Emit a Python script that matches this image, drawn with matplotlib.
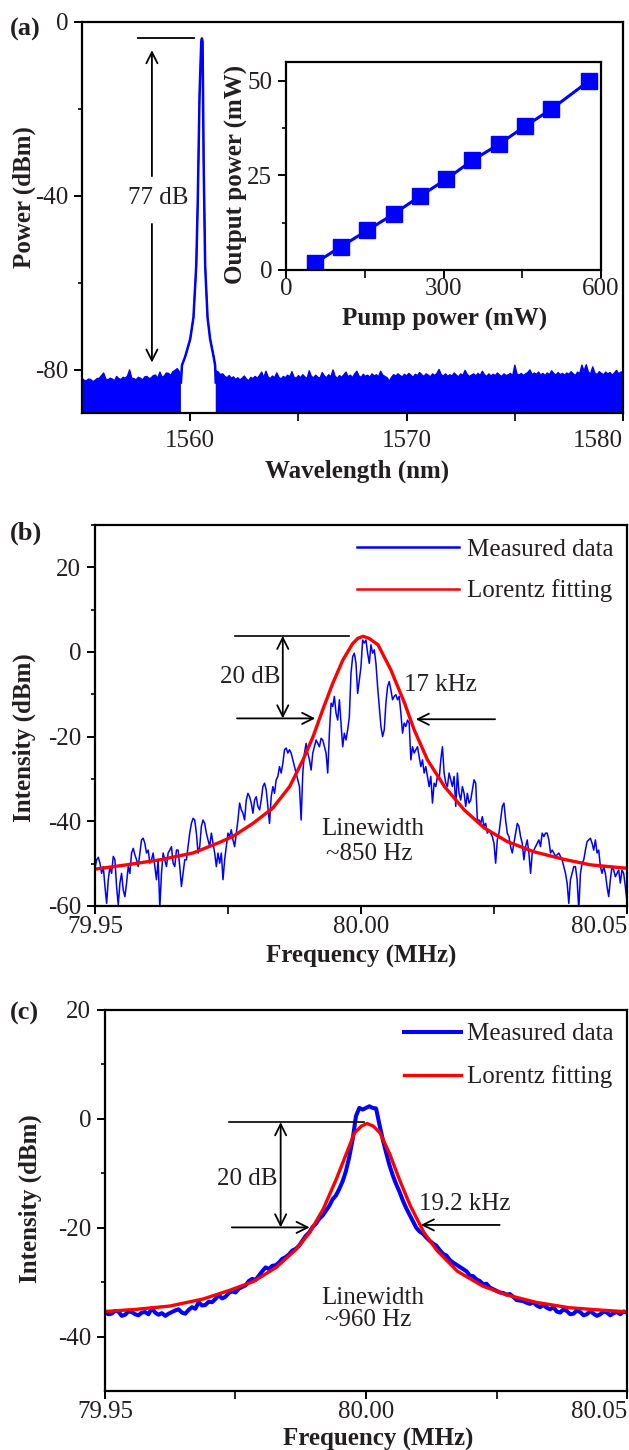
import numpy as np
import matplotlib
matplotlib.use("Agg")
import matplotlib.pyplot as plt
from matplotlib.ticker import MultipleLocator

plt.rcParams['font.family'] = ['Liberation Serif', 'DejaVu Serif']
plt.rcParams['axes.unicode_minus'] = False

BLUE = '#0000ff'
RED = '#ff0000'
INK = '#231f20'

# ---------------- (a) laser spectrum ----------------
# noise floor top, 1555.0 .. 1559.5 nm (0.1 nm steps)
noise_left = [
    -82.0, -82.5, -82.6, -82.2, -82.3, -82.8, -82.5, -82.1, -82.0, -81.4,
    -80.8, -82.2, -82.4, -82.0, -82.2, -82.6, -81.6, -82.1, -82.3, -81.8,
    -82.0, -81.5, -80.1, -82.0, -82.1, -82.4, -81.8, -82.0, -82.4, -81.7,
    -81.6, -82.1, -81.9, -81.4, -81.3, -82.0, -80.6, -81.8, -81.5, -80.8,
    -80.9, -81.4, -80.5, -80.2, -79.8, -80.5,
]
# the lasing peak
peak_wl = [1559.57, 1559.62, 1559.77, 1560.00, 1560.15, 1560.28, 1560.35, 1560.43,
           1560.51, 1560.54, 1560.57, 1560.62, 1560.69, 1560.80, 1560.92, 1561.08,
           1561.15, 1561.18]
peak_dbm = [-83.0, -79.0, -77.0, -73.0, -68.0, -56.0, -41.0, -17.0,
            -4.5, -3.8, -4.5, -32.0, -56.0, -68.0, -73.0, -77.0,
            -79.0, -83.0]
# noise floor top, 1561.2 .. 1580.0 nm (0.1 nm steps)
noise_right = [
    -80.3, -80.6, -81.2, -81.0, -81.6, -81.9, -81.4, -82.0,
    -81.7, -82.3, -81.9, -82.4, -82.0, -81.5, -82.2, -82.6, -81.8, -82.1,
    -81.6, -82.0, -81.4, -80.6, -81.9, -80.4, -81.7, -82.1, -81.5, -81.9,
    -80.8, -81.8, -82.2, -81.6, -81.9, -81.3, -81.7, -80.5, -81.8, -82.0,
    -81.4, -81.9, -81.2, -81.7, -82.1, -80.3, -81.6, -81.9, -81.3, -81.8,
    -82.0, -80.7, -81.5, -81.9, -81.2, -81.7, -80.1, -81.6, -82.0, -81.4,
    -81.8, -81.2, -80.6, -81.7, -81.3, -81.9, -81.0, -80.4, -81.5, -81.8,
    -81.1, -81.6, -81.3, -81.8, -81.0, -81.5, -81.2, -81.7, -80.4, -81.3,
    -81.6, -81.9, -82.7, -81.8, -81.2, -81.5, -81.0, -81.4, -81.7, -81.1,
    -81.5, -80.9, -81.3, -81.8, -81.1, -81.4, -80.7, -81.2, -81.6, -81.0,
    -81.3, -81.7, -81.0, -81.4, -80.9, -80.0, -81.2, -81.5, -81.0, -81.6,
    -81.2, -81.5, -80.8, -81.3, -81.7, -81.0, -81.4, -80.2, -81.1, -81.6,
    -81.3, -81.0, -81.5, -80.9, -81.4, -80.4, -81.2, -81.6, -81.0, -81.5,
    -81.1, -81.4, -80.8, -81.3, -81.6, -81.0, -81.4, -81.2, -80.9, -81.5,
    -79.0, -81.0, -81.3, -80.9, -81.4, -81.0, -80.7, -80.1, -81.2, -80.8,
    -81.1, -80.6, -81.3, -80.9, -81.4, -80.8, -81.2, -80.3, -80.9, -81.3,
    -80.7, -81.2, -80.9, -81.3, -80.8, -81.1, -80.5, -81.0, -81.4, -80.6,
    -80.9, -79.0, -80.4, -78.9, -80.6, -81.0, -79.4, -80.8, -81.2, -80.5,
    -80.9, -81.2, -80.6, -81.0, -80.7, -81.3, -80.8, -80.2, -81.0, -80.6, -80.5,
]

# inset: output power vs pump power
pump_mw = [55, 105, 155, 205, 255, 305, 355, 405, 455, 505, 577]
output_mw = [1.8, 6.2, 10.5, 14.8, 19.5, 24.0, 29.0, 33.2, 38.0, 42.5, 50.0]

# ---------------- (b) beat note, measured (79.95 .. 80.05 MHz) ----------------
b_measured = [
    -51.1, -49.1, -48.5, -49.9, -52.3, -50.7, -55.4, -59.4, -53.8, -50.7,
    -52.3, -48.3, -49.1, -55.4, -59.8, -54.6, -52.3, -56.2, -57.8, -54.6,
    -50.7, -52.3, -47.5, -46.4, -47.9, -49.1, -50.7, -47.5, -44.4, -44.0,
    -45.2, -47.5, -46.8, -49.9, -49.1, -47.5, -50.7, -53.8, -49.1, -60.5,
    -52.3, -47.5, -49.1, -50.7, -47.5, -46.8, -46.0, -49.9, -50.7, -46.8,
    -46.8, -50.7, -55.4, -52.3, -49.1, -49.1, -46.0, -42.8, -40.5, -39.3,
    -39.7, -42.8, -47.5, -46.0, -41.2, -39.7, -40.5, -42.8, -44.4, -46.0,
    -42.8, -45.2, -47.5, -50.7, -47.5, -49.9, -47.5, -53.8, -49.1, -46.0,
    -42.8, -43.6, -42.0, -44.4, -46.0, -42.8, -39.7, -35.7, -37.3, -38.1,
    -39.7, -35.0, -33.4, -34.2, -35.7, -38.1, -35.0, -34.2, -36.5, -37.3,
    -35.0, -31.8, -31.0, -32.6, -36.5, -40.5, -34.2, -31.8, -33.4, -30.2,
    -29.4, -27.1, -28.6, -26.3, -23.1, -22.7, -23.9, -23.1, -23.9, -25.5,
    -27.1, -28.6, -30.2, -31.8, -39.7, -28.6, -23.9, -21.6, -23.9, -25.5,
    -27.9, -23.9, -22.4, -20.8, -21.6, -22.4, -20.4, -20.8, -22.4, -23.9,
    -28.6, -19.2, -12.1, -12.9, -10.5, -14.5, -16.1, -11.3, -16.8, -22.4,
    -19.2, -20.8, -18.4, -15.3, -5.0, -1.1, -0.3, -2.7, -9.8, -6.6,
    -3.5, 2.8,
    2.1, 2.8, -0.3, -2.7, 1.7, -0.3, 0.5, -2.7, -8.2, -12.9,
    -17.6, -20.0, -18.4, -12.1, -8.2, -7.0, -9.0, -11.3, -10.5, -10.1,
    -11.3, -10.5, -14.5, -19.2, -16.8, -17.6, -16.1, -16.8, -25.5, -22.4,
    -23.9, -23.1, -22.4, -24.7, -27.1, -25.5, -28.6, -27.1, -29.4, -31.8,
    -29.4, -35.7, -31.0, -31.8, -29.4, -30.2, -25.5, -22.4, -28.6, -31.0,
    -31.8, -28.6, -30.2, -31.8, -29.4, -36.5, -28.6, -33.4, -35.0, -31.8,
    -33.4, -36.5, -33.4, -35.7, -35.0, -32.6, -30.2, -31.0, -39.7, -39.7,
    -40.5, -38.9, -41.2, -40.5, -42.8, -42.0, -42.8, -43.6, -45.2, -49.9,
    -44.4, -42.8, -39.7, -36.5, -35.7, -39.7, -42.8, -43.6, -46.0, -47.5,
    -45.2, -42.8, -40.5, -41.2, -43.6, -45.2, -49.1, -46.0, -44.4, -47.5,
    -52.3, -47.5, -46.8, -46.0, -45.2, -44.4, -46.0, -42.8, -43.6, -42.8,
    -42.8, -44.4, -47.5, -46.8, -47.5, -48.3, -47.9, -47.5, -48.3, -49.1,
    -50.7, -52.3, -54.6, -59.4, -53.8, -52.3, -50.7, -50.7, -53.8, -61.0,
    -52.3, -49.9, -49.1, -46.8, -44.8, -44.4, -44.0, -45.2, -46.8, -44.4,
    -47.5, -46.8, -50.7, -52.3, -50.7, -52.3, -55.4, -57.8, -53.8, -50.7,
    -51.5, -53.1, -52.3, -51.5, -54.6, -51.5, -52.3, -55.4, -59.0,
]
# (b) Lorentz fit, offset from 79.95 MHz in kHz
b_fit_khz = [0.0, 5.9, 12.2, 18.4, 23.4, 25.9, 29.7, 33.4, 36.6, 39.1, 41.0, 42.8,
             44.7, 46.6, 48.4, 49.4, 50.4, 51.5, 52.3, 53.2, 55.6, 58.2, 60.0,
             62.5, 65.7, 69.4, 73.2, 77.5, 82.5, 88.2, 93.2, 100.0]
b_fit_dbm = [-51.3, -50.3, -49.1, -47.5, -45.0, -43.6, -40.5, -36.9, -31.8, -25.5, -20.0, -13.7,
             -7.4, -1.9, 1.9, 3.2, 3.7, 3.2, 2.5, 1.7, -4.2, -12.1, -18.4,
             -25.5, -31.8, -37.3, -41.6, -44.8, -47.2, -49.0, -50.3, -51.1]

# ---------------- (c) beat note, measured (79.95 .. 80.05 MHz) ----------------
c_measured = [
    -35.5, -35.9, -35.8, -35.3, -35.4, -36.2, -36.0, -35.4, -35.5, -35.9,
    -36.1, -35.6, -35.5, -35.9, -34.8, -35.6, -36.0, -35.7, -36.2, -35.8,
    -35.5, -35.2, -35.0, -35.6, -35.8, -35.1, -34.6, -34.9, -33.7, -34.3,
    -34.2, -33.6, -33.7, -33.1, -32.4, -33.0, -32.7, -32.0, -31.7, -31.9,
    -31.2, -30.9, -30.6, -29.8, -29.4, -29.6, -28.8, -28.0, -27.3, -27.6,
    -27.0, -26.9, -26.4, -25.7, -25.4, -24.9, -24.2, -23.9, -23.3, -22.4,
    -21.5, -20.9, -19.9, -19.3, -18.4, -17.8, -16.9, -16.0, -14.8, -14.1,
    -12.9, -11.5, -9.6, -7.0, -3.8, 0.5, 2.0, 1.7, 2.0, 2.3, 2.0,
    1.9, -1.0, -3.8, -6.2, -8.5, -10.4, -12.0, -13.4, -15.0, -16.4,
    -17.6, -18.8, -20.0, -20.7, -21.1, -21.8, -22.4, -22.9, -23.3, -24.1,
    -24.8, -25.1, -25.9, -26.4, -26.8, -27.2, -27.6, -28.0, -28.8, -28.9,
    -29.5, -29.8, -30.4, -30.3, -31.0, -31.3, -31.6, -31.9, -32.0, -32.3,
    -32.2, -32.7, -33.3, -33.4, -33.5, -33.8, -34.0, -33.7, -34.3, -34.6,
    -34.2, -34.7, -35.0, -34.6, -35.4, -35.6, -35.0, -35.3, -35.9, -35.8,
    -35.2, -35.5, -36.1, -35.9, -35.3, -35.8, -36.2, -35.9, -35.4, -35.6,
    -36.1, -35.7, -35.5, -35.9, -35.4, -35.6,
]
c_fit_khz = [0.0, 6.0, 12.4, 18.8, 23.9, 28.4, 32.8, 36.7, 39.2, 41.8, 44.3, 46.2,
             47.8, 49.1, 50.2, 51.4, 52.7, 54.6, 56.5, 58.5, 61.1, 63.6, 67.5,
             72.3, 76.8, 82.5, 88.9, 94.4, 100.0]
c_fit_dbm = [-35.4, -35.0, -34.4, -33.1, -31.5, -29.9, -27.3, -23.9, -20.9, -16.6, -11.1, -6.5,
             -2.6, -1.35, -0.86, -1.35, -2.6, -6.6, -11.4, -16.0, -20.9, -24.2, -28.0,
             -30.7, -32.3, -33.7, -34.7, -35.1, -35.45]

TICK_FS = 18
LABEL_FS = 18
TEXT_FS = 18


def style_axes(ax, xpad=2):
    for s in ax.spines.values():
        s.set_linewidth(1.6)
        s.set_color('black')
    ax.tick_params(which='major', direction='out', length=6, width=1.4,
                   labelsize=TICK_FS, labelcolor=INK, pad=4)
    ax.tick_params(which='minor', direction='out', length=3, width=1.2)
    ax.tick_params(axis='x', which='minor', length=6)
    ax.tick_params(axis='x', which='major', pad=xpad)


def place_labels(ax, xlab, ylab, xpos, ypos):
    ax.set_xlabel(xlab, fontsize=LABEL_FS, fontweight='bold', color=INK)
    ax.set_ylabel(ylab, fontsize=LABEL_FS, fontweight='bold', color=INK)
    ax.xaxis.set_label_coords(*xpos)
    ax.yaxis.set_label_coords(*ypos)
    ax.xaxis.label.set_verticalalignment('center')
    ax.yaxis.label.set_verticalalignment('center')


def arrow(ax, tail, tip, style='->'):
    ax.annotate('', xy=tip, xytext=tail,
                arrowprops=dict(arrowstyle=style + ',head_length=0.4,head_width=0.2',
                                lw=1.3, color='black', shrinkA=0, shrinkB=0,
                                mutation_scale=20))


fig = plt.figure(figsize=(6.29, 14.5), dpi=100)

# ---- (a) ----
ax_a = fig.add_axes([0.1304, 0.7152, 0.8601, 0.2697])
wl = np.concatenate([np.linspace(1555.0, 1559.5, len(noise_left)), peak_wl,
                     np.linspace(1561.2, 1580.0, len(noise_right))])
pw = np.concatenate([noise_left, peak_dbm, noise_right])
ax_a.fill_between(wl, -90, pw, where=(wl <= 1559.575) | (wl >= 1561.175),
                  color=BLUE, lw=0)
ax_a.plot(wl, pw, color=BLUE, lw=1.0)
ax_a.plot(peak_wl, peak_dbm, color=BLUE, lw=1.8)
ax_a.set_xlim(1555, 1580)
ax_a.set_ylim(-90, 0)
ax_a.set_xticks([1560, 1570, 1580])
ax_a.set_xticks([1565, 1575], minor=True)
ax_a.yaxis.set_major_locator(MultipleLocator(40))
ax_a.yaxis.set_minor_locator(MultipleLocator(20))
style_axes(ax_a, xpad=6)
ax_a.get_xticklabels()[-1].set_horizontalalignment('right')
place_labels(ax_a, 'Wavelength (nm)', 'Power (dBm)', (0.508, -0.15), (-0.107, 0.552))

ax_a.plot([1557.59, 1560.18], [-3.6, -3.6], color='black', lw=1.3)
arrow(ax_a, (1558.23, -35.5), (1558.23, -6.5))
arrow(ax_a, (1558.23, -46.5), (1558.23, -78.4))
ax_a.text(1558.5, -40.6, '77 dB', fontsize=TEXT_FS, color=INK, ha='center', va='center')

# inset
ax_in = fig.add_axes([0.4547, 0.8138, 0.5008, 0.1434])
ax_in.plot(pump_mw, output_mw, '-s', color=BLUE, lw=2.2, ms=11.5, mec=BLUE, mfc=BLUE)
ax_in.set_xlim(0, 600)
ax_in.set_ylim(0, 55)
ax_in.xaxis.set_major_locator(MultipleLocator(300))
ax_in.xaxis.set_minor_locator(MultipleLocator(150))
ax_in.yaxis.set_major_locator(MultipleLocator(25))
ax_in.yaxis.set_minor_locator(MultipleLocator(12.5))
style_axes(ax_in, xpad=0)
place_labels(ax_in, 'Pump power (mW)', 'Output power (mW)', (0.504, -0.238), (-0.156, 0.46))

# ---- (b) ----
ax_b = fig.add_axes([0.1510, 0.3752, 0.8458, 0.2628])
b_freq = np.linspace(79.95, 80.05, len(b_measured))
ax_b.plot(b_freq, b_measured, color=BLUE, lw=1.1, label='Measured data')
ax_b.plot(79.95 + np.array(b_fit_khz) / 1000, b_fit_dbm, color=RED, lw=2.4,
          label='Lorentz fitting')
ax_b.set_xlim(79.95, 80.05)
ax_b.set_ylim(-60, 30)
ax_b.set_xticks([79.95, 80.00, 80.05])
ax_b.set_xticklabels(['79.95', '80.00', '80.05'])
ax_b.set_xticks([79.975, 80.025], minor=True)
ax_b.yaxis.set_major_locator(MultipleLocator(20))
ax_b.yaxis.set_minor_locator(MultipleLocator(10))
style_axes(ax_b, xpad=1)
ax_b.get_xticklabels()[-1].set_horizontalalignment('right')
place_labels(ax_b, 'Frequency (MHz)', 'Intensity (dBm)', (0.5008, -0.132), (-0.1335, 0.441))
leg = ax_b.legend(loc='upper right', bbox_to_anchor=(0.975, 0.965), frameon=False,
                  fontsize=TEXT_FS, handlelength=4.1, handletextpad=0.32,
                  labelspacing=0.75, borderpad=0, borderaxespad=0)
for t in leg.get_texts():
    t.set_color(INK)
for h in leg.get_lines():
    h.set_linewidth(1.8)

ax_b.plot([79.9763, 79.9978], [3.8, 3.8], color='black', lw=1.2)
arrow(ax_b, (79.9853, -15.7), (79.9853, 3.8), style='<->')
arrow(ax_b, (79.9767, -15.7), (79.9914, -15.7))
arrow(ax_b, (80.0252, -15.9), (80.0103, -15.9))
ax_b.text(79.9791, -6.0, '20 dB', fontsize=TEXT_FS, color=INK, ha='center', va='center')
ax_b.text(80.0150, -7.9, '17 kHz', fontsize=TEXT_FS, color=INK, ha='center', va='center')
ax_b.text(80.0022, -41.8, 'Linewidth', fontsize=TEXT_FS, color=INK, ha='center', va='center')
ax_b.text(80.0015, -47.7, '~850 Hz', fontsize=TEXT_FS, color=INK, ha='center', va='center')

# ---- (c) ----
ax_c = fig.add_axes([0.1669, 0.0407, 0.8300, 0.2628])
c_freq = np.linspace(79.95, 80.05, len(c_measured))
ax_c.plot(c_freq, c_measured, color=BLUE, lw=2.9, label='Measured data')
ax_c.plot(79.95 + np.array(c_fit_khz) / 1000, c_fit_dbm, color=RED, lw=2.4,
          label='Lorentz fitting')
ax_c.set_xlim(79.95, 80.05)
ax_c.set_ylim(-50, 20)
ax_c.set_xticks([79.95, 80.00, 80.05])
ax_c.set_xticklabels(['79.95', '80.00', '80.05'])
ax_c.set_xticks([79.975, 80.025], minor=True)
ax_c.set_yticks([-40, -20, 0, 20])
ax_c.set_yticks([-30, -10, 10], minor=True)
style_axes(ax_c, xpad=1)
ax_c.get_xticklabels()[-1].set_horizontalalignment('right')
place_labels(ax_c, 'Frequency (MHz)', 'Intensity (dBm)', (0.523, -0.128), (-0.1437, 0.505))
leg = ax_c.legend(loc='upper right', bbox_to_anchor=(0.975, 0.966), frameon=False,
                  fontsize=TEXT_FS, handlelength=2.3, handletextpad=0.25,
                  labelspacing=0.8, borderpad=0, borderaxespad=0)
for t in leg.get_texts():
    t.set_color(INK)

ax_c.plot([79.97375, 79.9997], [-0.62, -0.62], color='black', lw=1.2)
arrow(ax_c, (79.98365, -19.95), (79.98365, -0.62), style='<->')
arrow(ax_c, (79.9743, -19.95), (79.9892, -19.95))
arrow(ax_c, (80.0256, -19.5), (80.0105, -19.5))
ax_c.text(79.9773, -11.1, '20 dB', fontsize=TEXT_FS, color=INK, ha='center', va='center')
ax_c.text(80.0189, -15.6, '19.2 kHz', fontsize=TEXT_FS, color=INK, ha='center', va='center')
ax_c.text(80.0012, -32.9, 'Linewidth', fontsize=TEXT_FS, color=INK, ha='center', va='center')
ax_c.text(80.0005, -37.0, '~960 Hz', fontsize=TEXT_FS, color=INK, ha='center', va='center')

# panel letters
for label, y in [('(a)', 29), ('(b)', 533), ('(c)', 1013)]:
    fig.text(10 / 629, 1 - y / 1450, label, fontsize=19, fontweight='bold',
             color=INK, ha='left', va='center')

fig.savefig('out.png', dpi=100)
